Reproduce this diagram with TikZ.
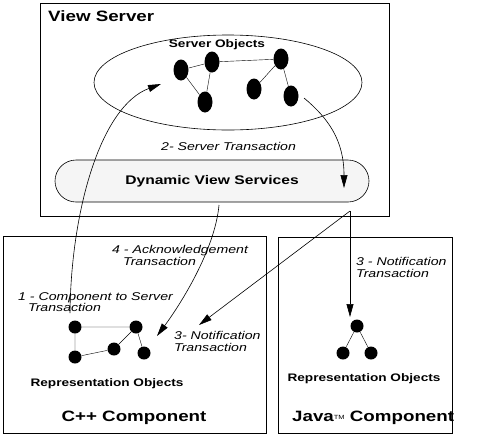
\documentclass[tikz,border=0pt]{standalone}
\usepackage{fontspec}
\setmainfont{Liberation Sans}[FakeStretch=1.25]
\usetikzlibrary{arrows.meta,shapes.geometric}

\tikzset{
  box/.style={draw,line width=0.8pt},
  obj/.style={circle,fill=black,inner sep=0pt,minimum size=13pt},
  srvobj/.style={ellipse,fill=black,inner sep=0pt,minimum width=15pt,minimum height=21pt},
  trans/.style={-{Triangle[length=13pt,width=7pt]},line width=0.6pt},
  big/.style={font=\bfseries\fontsize{15}{17}\selectfont,inner sep=0pt},
  mid/.style={font=\bfseries\fontsize{10.9}{12}\selectfont,inner sep=0pt},
  lbl/.style={font=\itshape\fontsize{11.3}{12.5}\selectfont,align=left,inner sep=0pt}
}

\begin{document}
\begin{tikzpicture}[x=1pt,y=-1pt]
			\useasboundingbox (0,0) rectangle (490,437);
			% view server
			\draw[box] (40,3) rectangle (389,216);
			\node[big,anchor=base west] (vstitle) at (48,21) {View Server};
			\node[draw,ellipse,line width=0.6pt,minimum width=268pt,minimum height=95pt,inner sep=0pt] (srv) at (228,82.5) {};
			\node[mid,anchor=base] (srvtitle) at (217,47) {Server Objects};
			\node[srvobj] (sa) at (181,70) {};
			\node[srvobj] (sb) at (212,62) {};
			\node[srvobj] (sc) at (205,102) {};
			\node[srvobj] (sd) at (281,59) {};
			\node[srvobj] (se) at (254,89) {};
			\node[srvobj] (sf) at (291,96) {};
			\draw (sa) -- (sb) -- (sc) -- (sa);
			\draw (sb) -- (sd) -- (se);
			\draw (sd) -- (sf);
			\node[draw,line width=0.6pt,fill=gray!8,rounded corners=21pt,minimum width=314pt,minimum height=42pt,font=\bfseries\fontsize{12.5}{14}\selectfont] (dvs) at (212,181) {Dynamic View Services};
			% c++ component
			\draw[box] (3,236) rectangle (266,433);
			\node[obj] (ca) at (75,327) {};
			\node[obj] (cb) at (136,327) {};
			\node[obj] (cc) at (75,357) {};
			\node[obj] (cd) at (114,349) {};
			\node[obj] (ce) at (144,353) {};
			\draw (cc) -- (ca) -- (cb) -- (cd) -- (cc);
			\draw (cb) -- (ce);
			\node[mid,anchor=base] (crep) at (107,386) {Representation Objects};
			\node[big,anchor=base] (ctitle) at (134,421) {C++ Component};
			% java component
			\draw[box] (278,237) rectangle (452,433);
			\node[obj] (ja) at (357,326) {};
			\node[obj] (jb) at (343,353) {};
			\node[obj] (jc) at (371,353) {};
			\draw (jb) -- (ja) -- (jc);
			\node[mid,anchor=base] (jrep) at (364,381) {Representation Objects};
			\node[big,anchor=base west] (jtitle) at (292,421) {Java\raisebox{2pt}{\mdseries\fontsize{6}{6}\selectfont TM} Component};
			% transactions
			\coordinate (s1) at (70,313);
			\coordinate (t1) at (161,84);
			\draw[trans] (s1) .. controls (71,210) and (101,106) .. (t1);
			\node[lbl,anchor=north west] (l1) at (18,292) {1 - Component to Server\\[-1.5pt]\hspace*{10pt}Transaction};
			\coordinate (s2) at (304,98);
			\coordinate (t2) at (344,188);
			\draw[trans] (s2) .. controls (328,118) and (344,140) .. (t2);
			\node[lbl,anchor=base west] (l2) at (161,150) {2- Server Transaction};
			\coordinate (hub) at (350,211);
			\coordinate (t3a) at (350,317);
			\coordinate (t3b) at (199,325);
			\draw[trans] (hub) -- (t3a);
			\draw[trans] (hub) -- (t3b);
			\node[lbl,anchor=north west] (l3a) at (356,257) {3 - Notification\\Transaction};
			\node[lbl,anchor=north west] (l3b) at (174,331) {3- Notification\\Transaction};
			\coordinate (s4) at (219,205);
			\coordinate (t4) at (157,336);
			\draw[trans] (s4) .. controls (215,250) and (180,305) .. (t4);
			\node[lbl,anchor=north west] (l4) at (112,245) {4 - Acknowledgement\\\hspace*{11pt}Transaction};
		\end{tikzpicture}
\end{document}
